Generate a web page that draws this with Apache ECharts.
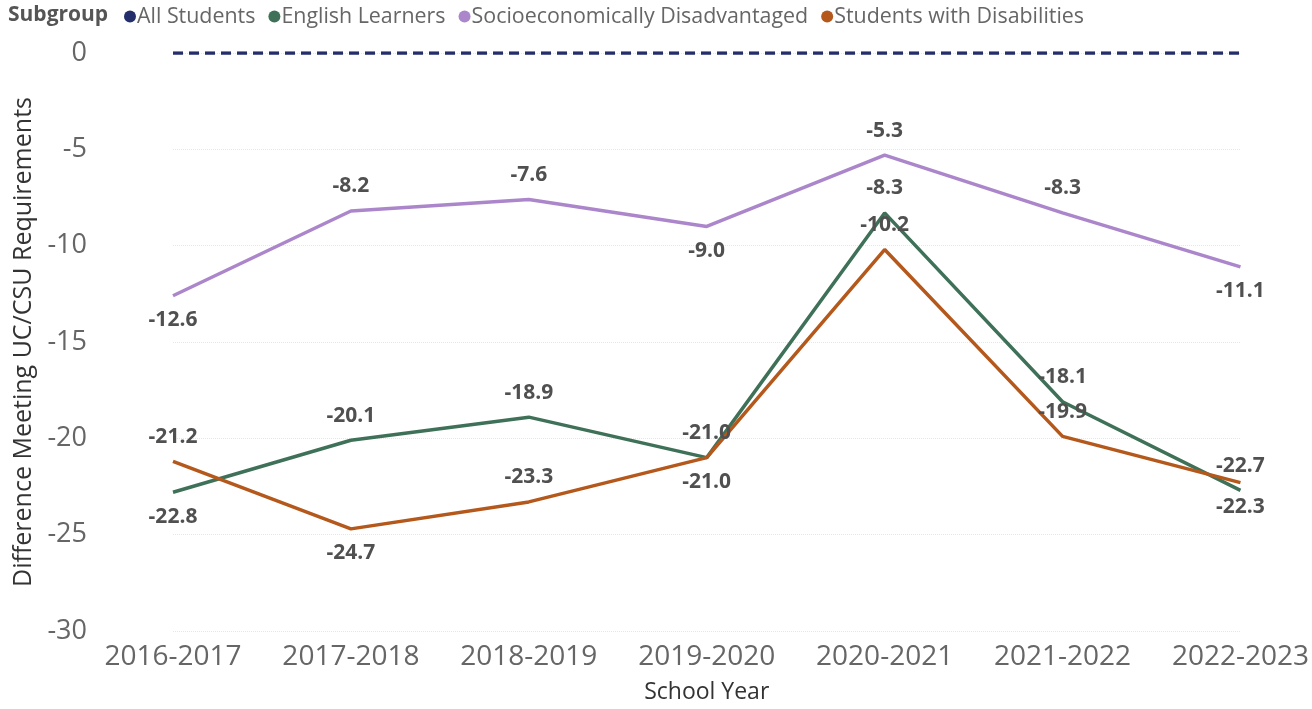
<!DOCTYPE html>
<html>
<head>
<meta charset="utf-8">
<script src="https://cdn.jsdelivr.net/npm/echarts@6/dist/echarts.min.js"></script>
<style>
    html, body { margin: 0; padding: 0; background: #fff; }
    #chart { width: 1312px; height: 709px; }
</style>
</head>
<body>
<div id="chart"></div>
<script>
var years = ["2016-2017", "2017-2018", "2018-2019", "2019-2020", "2020-2021", "2021-2022", "2022-2023"];
var allStudents = [0, 0, 0, 0, 0, 0, 0];
var englishLearners = [-22.8, -20.1, -18.9, -21.0, -8.3, -18.1, -22.7];
var socioDisadv = [-12.6, -8.2, -7.6, -9.0, -5.3, -8.3, -11.1];
var disabilities = [-21.2, -24.7, -23.3, -21.0, -10.2, -19.9, -22.3];

// label above / below for each point
var elPos = ["bottom", "top", "top", "top", "top", "top", "top"];
var sdPos = ["bottom", "top", "top", "bottom", "top", "top", "bottom"];
var swdPos = ["top", "bottom", "top", "bottom", "top", "top", "bottom"];

var FONT = "'Open Sans', 'Noto Sans', sans-serif";

function with_pos(values, pos) {
    var out = [];
    for (var i = 0; i < values.length; i++) {
        out.push({value: values[i], label: {position: pos[i]}});
    }
    return out;
}

var labelStyle = {
    show: true,
    fontFamily: FONT,
    fontSize: 21,
    fontWeight: "bold",
    color: "#505050",
    distance: 14,
    formatter: function (p) { return p.value.toFixed(1); }
};

function line_series(name, data, color) {
    return {
        name: name,
        type: "line",
        data: data,
        symbol: "circle",
        symbolSize: 0,
        showSymbol: true,
        color: color,
        lineStyle: {width: 3.5},
        label: labelStyle,
        labelLayout: {hideOverlap: false},
        emphasis: {disabled: true}
    };
}

var chart = echarts.init(document.getElementById("chart"));
chart.setOption({
    animation: false,
    title: {
        text: "Subgroup",
        left: 3,
        top: 0,
        textStyle: {fontFamily: FONT, fontSize: 21, fontWeight: "bold", color: "#555"}
    },
    legend: {
        left: 119,
        top: 1,
        icon: "circle",
        itemWidth: 12,
        itemHeight: 12,
        itemGap: 13,
        textStyle: {fontFamily: FONT, fontSize: 21.4, color: "#666", padding: [0, 0, 0, -4]},
        data: ["All Students", "English Learners", "Socioeconomically Disadvantaged", "Students with Disabilities"]
    },
    grid: {left: 173, right: 69, top: 53, bottom: 77},
    xAxis: {
        type: "category",
        data: years,
        boundaryGap: false,
        name: "School Year",
        nameLocation: "middle",
        nameGap: 50,
        nameTextStyle: {fontFamily: FONT, fontSize: 23, color: "#333"},
        axisLine: {show: false},
        axisTick: {show: false},
        axisLabel: {fontFamily: FONT, fontSize: 28, color: "#666", margin: 12, interval: 0, hideOverlap: false}
    },
    yAxis: {
        type: "value",
        min: -30,
        max: 0,
        interval: 5,
        name: "Difference Meeting UC/CSU Requirements",
        nameLocation: "middle",
        nameGap: 137,
        nameTextStyle: {fontFamily: FONT, fontSize: 25, color: "#333"},
        axisLabel: {fontFamily: FONT, fontSize: 27, color: "#666", margin: 86},
        splitLine: {lineStyle: {color: "#e6e6e6", type: "dotted", width: 1}}
    },
    series: [
        {
            name: "All Students",
            type: "line",
            data: allStudents,
            symbol: "none",
            color: "#242E6B",
            lineStyle: {width: 3.5, type: [10, 6]}
        },
        line_series("English Learners", with_pos(englishLearners, elPos), "#3F7159"),
        line_series("Socioeconomically Disadvantaged", with_pos(socioDisadv, sdPos), "#AC86CB"),
        line_series("Students with Disabilities", with_pos(disabilities, swdPos), "#B4581C")
    ]
});
</script>
</body>
</html>
